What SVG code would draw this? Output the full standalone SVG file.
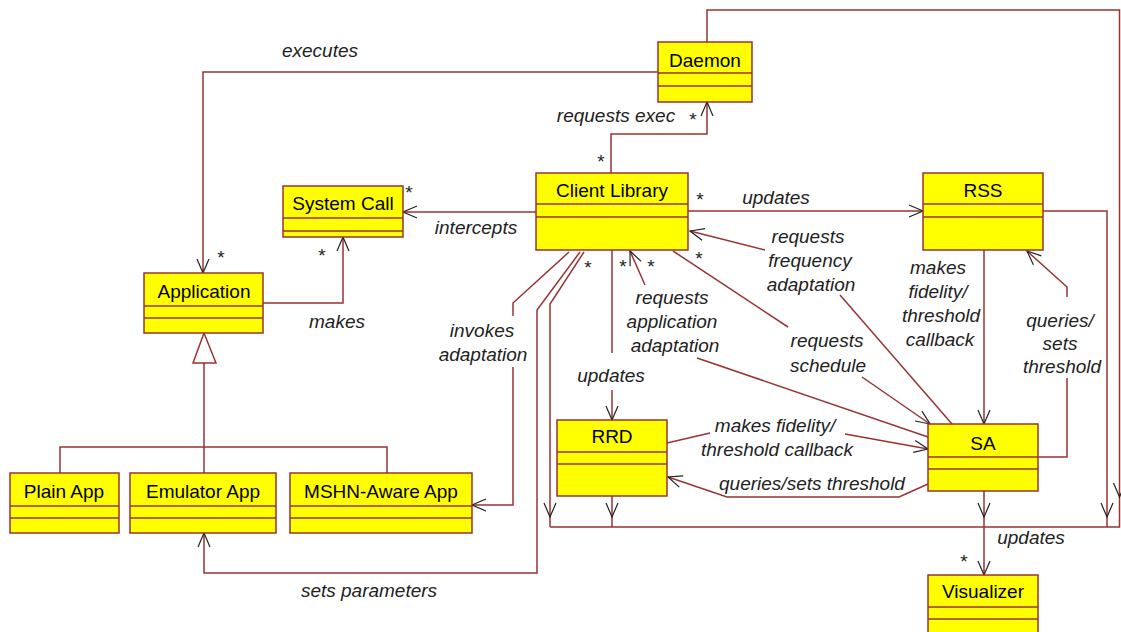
<svg xmlns="http://www.w3.org/2000/svg" width="1121" height="632" viewBox="0 0 1121 632">
<style>
.box{fill:#ffff00;stroke:#993333;stroke-width:1.5}
.dv{stroke:#993333;stroke-width:1.5}
.ln{fill:none;stroke:#993333;stroke-width:1.5}
.ah{fill:none;stroke:#222;stroke-width:1.2}
.nm{font-family:"Liberation Sans",Arial,sans-serif;font-size:19px;text-anchor:middle;fill:#000}
.lb{font-family:"Liberation Sans",Arial,sans-serif;font-size:19px;font-style:italic;text-anchor:middle;fill:#222}
.st{font-family:"Liberation Sans",Arial,sans-serif;font-size:19px;text-anchor:middle;fill:#222}
</style>
<defs>
<marker id="arr" markerUnits="userSpaceOnUse" viewBox="-16 -8 18 16" refX="0" refY="0" markerWidth="18" markerHeight="16" orient="auto">
<path d="M-14,-6 L0,0 L-14,6" fill="none" stroke="#222" stroke-width="1.2"/>
</marker>
</defs>
<rect width="1121" height="632" fill="#fff"/>

<g id="connectors">
<path class="ln" d="M658,72 H203 V273" marker-end="url(#arr)"/>
<path class="ln" d="M611,173 V134 H707 V102" marker-end="url(#arr)"/>
<path class="ln" d="M707,42 V10 H1119.5 V527 H550"/>
<path class="ln" d="M536,212 H403" marker-end="url(#arr)"/>
<path class="ln" d="M688,211 H923" marker-end="url(#arr)"/>
<path class="ln" d="M263,303 H343 V237" marker-end="url(#arr)"/>
<path class="ln" d="M204,473 V363"/>
<polygon points="204,333 193,363 216,363" fill="#fff" stroke="#993333" stroke-width="1.5"/>
<path class="ln" d="M60,473 V447 H387 V473"/>
<path class="ln" d="M569,252 L513,303 V316"/>
<path class="ln" d="M513,367 V505 H472" marker-end="url(#arr)"/>
<path class="ln" d="M580,252 L537,310 V573 H204 V533" marker-end="url(#arr)"/>
<path class="ln" d="M584,252 L550,304 V527"/>
<path class="ln" d="M612,250 V353"/>
<path class="ln" d="M612,390 V420" marker-end="url(#arr)"/>
<path class="ln" d="M928,437 L697,358"/>
<path class="ln" d="M645,285 L630,251" marker-end="url(#arr)"/>
<path class="ln" d="M952,424 L840,295"/>
<path class="ln" d="M765,250 L690,231" marker-end="url(#arr)"/>
<path class="ln" d="M673,251 L788,327"/>
<path class="ln" d="M862,377 L930,424" marker-end="url(#arr)"/>
<path class="ln" d="M667,443 L710,433"/>
<path class="ln" d="M845,434 L928,449" marker-end="url(#arr)"/>
<path class="ln" d="M928,484 L899,497 H727 L668,477" marker-end="url(#arr)"/>
<path class="ln" d="M984,250 V424" marker-end="url(#arr)"/>
<path class="ln" d="M1038,457 H1067 V378"/>
<path class="ln" d="M1067,297 V287 L1027,251" marker-end="url(#arr)"/>
<path class="ln" d="M1043,211 H1107 V527"/>
<path class="ln" d="M984,491 V575" marker-end="url(#arr)"/>
<path class="ln" d="M612,496 V527"/>
<path class="ah" d="M544,503 L550,517 L556,503"/>
<path class="ah" d="M606,503 L612,517 L618,503"/>
<path class="ah" d="M978,503 L984,517 L990,503"/>
<path class="ah" d="M1101,503 L1107,517 L1113,503"/>
<path class="ah" d="M1113.5,483 L1119.5,497 L1125.5,483"/>

<text class="lb" x="320" y="57">executes</text>
<text class="lb" x="616" y="122">requests exec</text>
<text class="st" x="693" y="126">*</text>
<text class="st" x="601" y="168">*</text>
<text class="st" x="409" y="199">*</text>
<text class="st" x="322" y="262">*</text>
<text class="st" x="221" y="264">*</text>
<text class="st" x="700" y="206">*</text>
<text class="st" x="699" y="265">*</text>
<text class="st" x="623" y="273">*</text>
<text class="st" x="651" y="273">*</text>
<text class="st" x="588" y="274">*</text>
<text class="st" x="964" y="568">*</text>
<text class="lb" x="476" y="234">intercepts</text>
<text class="lb" x="337" y="328">makes</text>
<text class="lb" x="776" y="204">updates</text>
<text class="lb" x="482" y="337">invokes</text>
<text class="lb" x="483" y="361">adaptation</text>
<text class="lb" x="672" y="304">requests</text>
<text class="lb" x="672" y="328">application</text>
<text class="lb" x="675" y="352">adaptation</text>
<text class="lb" x="808" y="243">requests</text>
<text class="lb" x="810" y="267">frequency</text>
<text class="lb" x="811" y="291">adaptation</text>
<text class="lb" x="827" y="347">requests</text>
<text class="lb" x="828" y="372">schedule</text>
<text class="lb" x="938" y="274">makes</text>
<text class="lb" x="938" y="298">fidelity/</text>
<text class="lb" x="941" y="322">threshold</text>
<text class="lb" x="940" y="346">callback</text>
<text class="lb" x="1060" y="327">queries/</text>
<text class="lb" x="1060" y="350">sets</text>
<text class="lb" x="1062" y="373">threshold</text>
<text class="lb" x="611" y="382">updates</text>
<text class="lb" x="775" y="432">makes fidelity/</text>
<text class="lb" x="777" y="456">threshold callback</text>
<text class="lb" x="812" y="490">queries/sets threshold</text>
<text class="lb" x="1031" y="544">updates</text>
<text class="lb" x="369" y="597">sets parameters</text>
</g>

<g id="daemon"><rect class="box" x="658" y="42" width="94" height="60"/><line class="dv" x1="658" y1="73" x2="752" y2="73"/><line class="dv" x1="658" y1="86" x2="752" y2="86"/><text class="nm" x="705" y="67">Daemon</text></g>
<g id="client-library"><rect class="box" x="536" y="173" width="152" height="77"/><line class="dv" x1="536" y1="204" x2="688" y2="204"/><line class="dv" x1="536" y1="217" x2="688" y2="217"/><text class="nm" x="612" y="197">Client Library</text></g>
<g id="system-call"><rect class="box" x="283" y="186" width="120" height="51"/><line class="dv" x1="283" y1="218" x2="403" y2="218"/><line class="dv" x1="283" y1="231" x2="403" y2="231"/><text class="nm" x="343" y="210">System Call</text></g>
<g id="application"><rect class="box" x="144" y="273" width="119" height="60"/><line class="dv" x1="144" y1="306" x2="263" y2="306"/><line class="dv" x1="144" y1="318" x2="263" y2="318"/><text class="nm" x="204" y="298">Application</text></g>
<g id="rss"><rect class="box" x="923" y="173" width="120" height="77"/><line class="dv" x1="923" y1="204" x2="1043" y2="204"/><line class="dv" x1="923" y1="217" x2="1043" y2="217"/><text class="nm" x="983" y="197">RSS</text></g>
<g id="rrd"><rect class="box" x="557" y="420" width="110" height="76"/><line class="dv" x1="557" y1="452" x2="667" y2="452"/><line class="dv" x1="557" y1="464" x2="667" y2="464"/><text class="nm" x="612" y="443">RRD</text></g>
<g id="sa"><rect class="box" x="928" y="424" width="110" height="67"/><line class="dv" x1="928" y1="457" x2="1038" y2="457"/><line class="dv" x1="928" y1="469" x2="1038" y2="469"/><text class="nm" x="983" y="450">SA</text></g>
<g id="visualizer"><rect class="box" x="928" y="575" width="110" height="70"/><line class="dv" x1="928" y1="607" x2="1038" y2="607"/><line class="dv" x1="928" y1="619" x2="1038" y2="619"/><text class="nm" x="983" y="598">Visualizer</text></g>
<g id="plain-app"><rect class="box" x="10" y="473" width="109" height="60"/><line class="dv" x1="10" y1="506" x2="119" y2="506"/><line class="dv" x1="10" y1="518" x2="119" y2="518"/><text class="nm" x="64" y="498">Plain App</text></g>
<g id="emulator-app"><rect class="box" x="130" y="473" width="146" height="60"/><line class="dv" x1="130" y1="506" x2="276" y2="506"/><line class="dv" x1="130" y1="518" x2="276" y2="518"/><text class="nm" x="203" y="498">Emulator App</text></g>
<g id="mshn-aware-app"><rect class="box" x="290" y="473" width="182" height="60"/><line class="dv" x1="290" y1="506" x2="472" y2="506"/><line class="dv" x1="290" y1="518" x2="472" y2="518"/><text class="nm" x="381" y="498">MSHN-Aware App</text></g>
</svg>
